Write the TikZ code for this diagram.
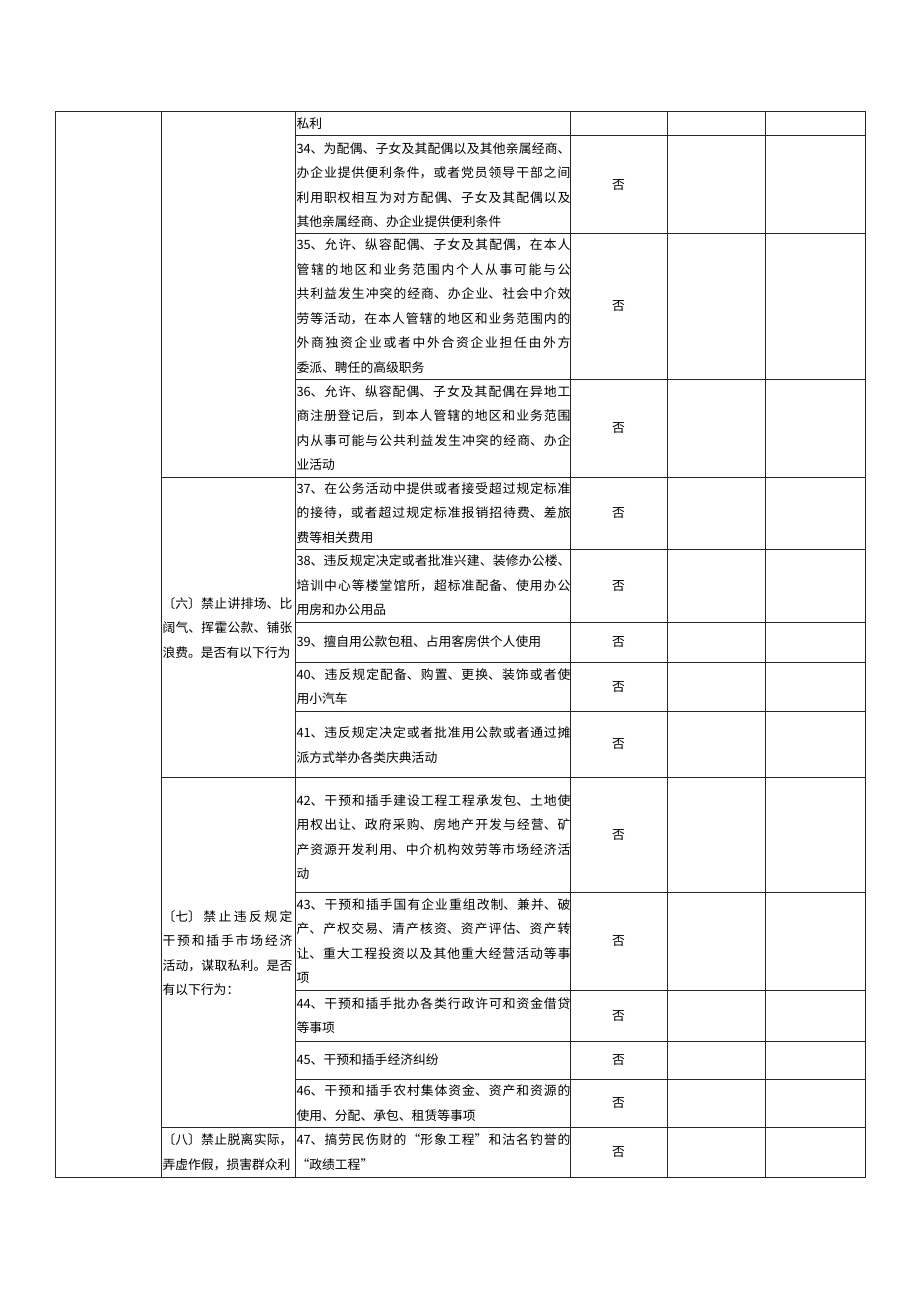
\documentclass[tikz,border=0pt]{standalone}
\usepackage{fontspec}
\setmainfont{Noto Sans CJK SC}
\XeTeXlinebreaklocale "zh"
\XeTeXlinebreakskip=0pt plus 3pt minus 0.3pt
\begin{document}
\begin{tikzpicture}
  [
  x=0.75pt, y=-0.75pt,
  line width=0.75pt,
  grid/.style={draw=black!85},
  itemtext/.style={anchor=west, align=justify, text width=205.5pt, inner sep=0pt, font=\fontsize{9.6}{18.4}\selectfont},
  grouptext/.style={anchor=west, align=justify, text width=97.5pt, inner sep=0pt, font=\fontsize{9.6}{18.4}\selectfont},
  answer/.style={inner sep=0pt, font=\fontsize{9.6}{18.4}\selectfont},
  ]
  \useasboundingbox (0,0) rectangle (920,1302);

  % frame and columns
  \draw[grid] (55,112) rectangle (865,1177);
  \draw[grid] (161,112) -- (161,1177);
  \draw[grid] (295,112) -- (295,1177);
  \draw[grid] (570,112) -- (570,1177);
  \draw[grid] (667,112) -- (667,1177);
  \draw[grid] (765,112) -- (765,1177);

  % rows
  \draw[grid] (295,136) -- (865,136);
  \draw[grid] (295,233) -- (865,233);
  \draw[grid] (295,379) -- (865,379);
  \draw[grid] (161,477) -- (865,477);
  \draw[grid] (295,549) -- (865,549);
  \draw[grid] (295,622) -- (865,622);
  \draw[grid] (295,662) -- (865,662);
  \draw[grid] (295,711) -- (865,711);
  \draw[grid] (161,777) -- (865,777);
  \draw[grid] (295,892) -- (865,892);
  \draw[grid] (295,990) -- (865,990);
  \draw[grid] (295,1041) -- (865,1041);
  \draw[grid] (295,1079) -- (865,1079);
  \draw[grid] (161,1127) -- (865,1127);

  % groups
  \node[grouptext] (g6) at (162,628) {〔六〕禁止讲排场、比\linebreak 阔气、挥霍公款、铺张\linebreak 浪费。是否有以下行为};
  \node[grouptext] (g7) at (162,953) {〔七〕禁止违反规定\linebreak 干预和插手市场经济\linebreak 活动，谋取私利。是否\linebreak 有以下行为：};
  \node[grouptext] (g8) at (162,1152) {〔八〕禁止脱离实际，\linebreak 弄虚作假，损害群众利};

  % items
  \node[itemtext] (t33) at (296,124) {私利};
  \node[itemtext] (t34) at (296,185) {34、为配偶、子女及其配偶以及其他亲属经商、\linebreak 办企业提供便利条件，或者党员领导干部之间\linebreak 利用职权相互为对方配偶、子女及其配偶以及\linebreak 其他亲属经商、办企业提供便利条件};
  \node[itemtext] (t35) at (296,306) {35、允许、纵容配偶、子女及其配偶，在本人\linebreak 管辖的地区和业务范围内个人从事可能与公\linebreak 共利益发生冲突的经商、办企业、社会中介效\linebreak 劳等活动，在本人管辖的地区和业务范围内的\linebreak 外商独资企业或者中外合资企业担任由外方\linebreak 委派、聘任的高级职务};
  \node[itemtext] (t36) at (296,428) {36、允许、纵容配偶、子女及其配偶在异地工\linebreak 商注册登记后，到本人管辖的地区和业务范围\linebreak 内从事可能与公共利益发生冲突的经商、办企\linebreak 业活动};
  \node[itemtext] (t37) at (296,513) {37、在公务活动中提供或者接受超过规定标准\linebreak 的接待，或者超过规定标准报销招待费、差旅\linebreak 费等相关费用};
  \node[itemtext] (t38) at (296,585.5) {38、违反规定决定或者批准兴建、装修办公楼、\linebreak 培训中心等楼堂馆所，超标准配备、使用办公\linebreak 用房和办公用品};
  \node[itemtext] (t39) at (296,642) {39、擅自用公款包租、占用客房供个人使用};
  \node[itemtext] (t40) at (296,686.5) {40、违反规定配备、购置、更换、装饰或者使\linebreak 用小汽车};
  \node[itemtext] (t41) at (296,745) {41、违反规定决定或者批准用公款或者通过摊\linebreak 派方式举办各类庆典活动};
  \node[itemtext] (t42) at (296,837) {42、干预和插手建设工程工程承发包、土地使\linebreak 用权出让、政府采购、房地产开发与经营、矿\linebreak 产资源开发利用、中介机构效劳等市场经济活\linebreak 动};
  \node[itemtext] (t43) at (296,941) {43、干预和插手国有企业重组改制、兼并、破\linebreak 产、产权交易、清产核资、资产评估、资产转\linebreak 让、重大工程投资以及其他重大经营活动等事\linebreak 项};
  \node[itemtext] (t44) at (296,1015.5) {44、干预和插手批办各类行政许可和资金借贷\linebreak 等事项};
  \node[itemtext] (t45) at (296,1060) {45、干预和插手经济纠纷};
  \node[itemtext] (t46) at (296,1103) {46、干预和插手农村集体资金、资产和资源的\linebreak 使用、分配、承包、租赁等事项};
  \node[itemtext] (t47) at (296,1152) {47、搞劳民伤财的“形象工程”和沽名钓誉的\linebreak “政绩工程”};

  % answers
  \node[answer] (a34) at (618.5,185) {否};
  \node[answer] (a35) at (618.5,306) {否};
  \node[answer] (a36) at (618.5,428) {否};
  \node[answer] (a37) at (618.5,513) {否};
  \node[answer] (a38) at (618.5,585.5) {否};
  \node[answer] (a39) at (618.5,642) {否};
  \node[answer] (a40) at (618.5,686.5) {否};
  \node[answer] (a41) at (618.5,744) {否};
  \node[answer] (a42) at (618.5,834.5) {否};
  \node[answer] (a43) at (618.5,941) {否};
  \node[answer] (a44) at (618.5,1015.5) {否};
  \node[answer] (a45) at (618.5,1060) {否};
  \node[answer] (a46) at (618.5,1103) {否};
  \node[answer] (a47) at (618.5,1152) {否};
\end{tikzpicture}
\end{document}
